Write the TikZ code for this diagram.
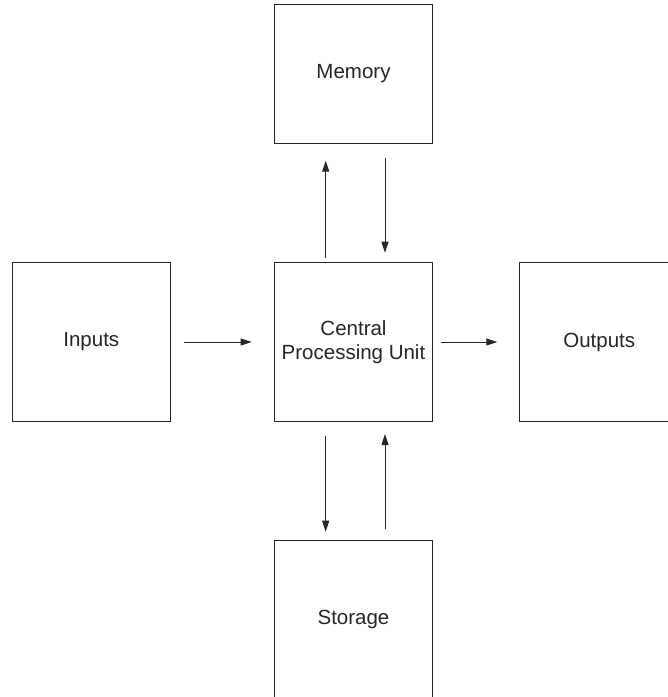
\documentclass[tikz,border=0pt]{standalone}
\usepackage{fontspec}
\setmainfont{Liberation Sans}
\usetikzlibrary{arrows.meta}
\definecolor{ink}{HTML}{262626}
\tikzset{
  blk/.style={draw=ink, line width=1pt, minimum width=158.5pt, minimum height=158.5pt, inner sep=0pt, outer sep=0pt, align=center, font=\fontsize{20.5}{24.5}\selectfont, text=ink},
  conn/.style={draw=ink, line width=1pt, -{Triangle[length=11pt,width=7pt]}}
}
\begin{document}
\begin{tikzpicture}[x=1pt,y=-1pt]
\useasboundingbox (0,0) rectangle (668,697);
\clip (0,0) rectangle (668,697);
\node[blk, minimum height=139pt] (mem) at (353.5,74) {Memory};
\node[blk] (in) at (91.3,342) {Inputs};
\node[blk] (cpu) at (353.5,342) {Central\\Processing Unit};
\node[blk] (out) at (599.2,342) {Outputs};
\node[blk] (sto) at (353.5,619.8) {Storage};
\coordinate (a1s) at (325.7,257.7); \coordinate (a1e) at (325.7,160.7);
\coordinate (a2s) at (385,158.3);   \coordinate (a2e) at (385,252.7);
\coordinate (a3s) at (325.7,435.7); \coordinate (a3e) at (325.7,531.7);
\coordinate (a4s) at (385,529.3);   \coordinate (a4e) at (385,434);
\coordinate (a5s) at (184,342);     \coordinate (a5e) at (251.7,342);
\coordinate (a6s) at (440.7,342);   \coordinate (a6e) at (497.3,342);
\draw[conn] (a1s) -- (a1e);
\draw[conn] (a2s) -- (a2e);
\draw[conn] (a3s) -- (a3e);
\draw[conn] (a4s) -- (a4e);
\draw[conn] (a5s) -- (a5e);
\draw[conn] (a6s) -- (a6e);
\end{tikzpicture}
\end{document}
